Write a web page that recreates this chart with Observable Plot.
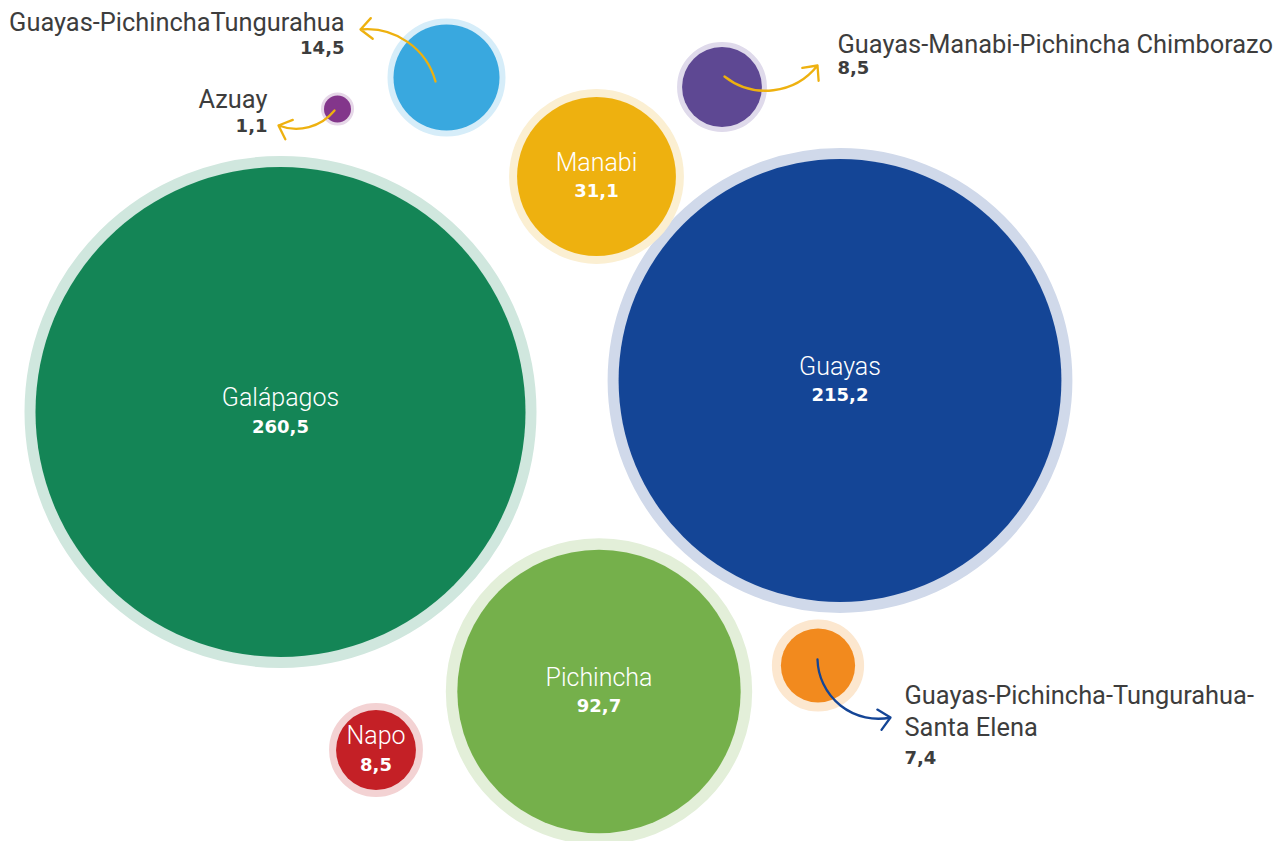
<!DOCTYPE html>
<html>
<head>
<meta charset="utf-8">
<script src="https://cdn.jsdelivr.net/npm/d3@7"></script>
<script src="https://cdn.jsdelivr.net/npm/@observablehq/plot@0.6"></script>
<style>
  html, body { margin: 0; padding: 0; background: #ffffff; }
  #chart svg { display: block; }
</style>
</head>
<body>
<div id="chart"></div>
<script>
// ---------- DATA ----------
const regions = [
  "Galápagos",
  "Guayas",
  "Pichincha",
  "Manabi",
  "Napo",
  "Guayas-PichinchaTungurahua",
  "Guayas-Manabi-Pichincha Chimborazo",
  "Guayas-Pichincha-Tungurahua-Santa Elena",
  "Azuay"
];
const values = [260.5, 215.2, 92.7, 31.1, 8.5, 14.5, 8.5, 7.4, 1.1];

// ---------- LAYOUT (frame units, 1282 x 841) ----------
const centerX = [280, 839.5, 598.5, 596, 375.5, 446, 721.5, 817.5, 337];
const centerY = [411.5, 380, 691, 176, 749.5, 77, 86.5, 665, 108.5];

// ---------- STYLE ----------
const fillColors = ["#148556", "#144596", "#75b04b", "#eeb10f", "#c42026", "#39a8df", "#5e4893", "#f28a1e", "#83368b"];
const ringColors = ["#d0e7de", "#d0d9ea", "#e3efd9", "#fbefd2", "#f3d2d3", "#d6edf9", "#dfdaeb", "#fce7cf", "#e6d7e8"];
const ringWidths = [11, 11, 11.5, 8, 7, 6, 5, 9, 3];
const labelInside = [true, true, true, true, true, false, false, false, false];

// outer labels: anchor position of name and value
const outerLabels = [
  {region: "Guayas-PichinchaTungurahua", lx: 344, nameY: 20.5, valueY: 48, anchor: "end"},
  {region: "Azuay", lx: 267, nameY: 97.7, valueY: 126, anchor: "end"},
  {region: "Guayas-Manabi-Pichincha Chimborazo", lx: 837, nameY: 42, valueY: 68, anchor: "start"},
  {region: "Guayas-Pichincha-Tungurahua-Santa Elena", lx: 904, nameY: 709.5, valueY: 757.5, anchor: "start", wrapBefore: "Santa"}
];

// callout arrows
const callouts = [
  {x1: 435, y1: 81, x2: 360, y2: 29, bend: -40, color: "#eeb10f"},
  {x1: 334, y1: 110, x2: 278, y2: 125, bend: 36, color: "#eeb10f"},
  {x1: 724, y1: 76, x2: 817, y2: 65, bend: -45, color: "#eeb10f"},
  {x1: 817, y1: 659, x2: 890, y2: 717, bend: -50, color: "#144596"}
];

// ---------- BUILD ----------
const W = 1282, H = 841;
const fmt = v => v.toFixed(1).replace(".", ",");

const bubbles = regions.map((name, i) => ({
  name, value: values[i],
  cx: centerX[i], cy: centerY[i],
  fill: fillColors[i], ring: ringColors[i], ringW: ringWidths[i],
  inside: labelInside[i]
}));
const inner = bubbles.filter(d => d.inside);
const outer = outerLabels.map(o => {
  const b = bubbles.find(d => d.name === o.region);
  const display = o.wrapBefore ? b.name.replace(o.wrapBefore, "\n" + o.wrapBefore) : b.name;
  return {...o, display, valueText: fmt(b.value)};
});

const textMarks = [];
for (const anchor of ["start", "end"]) {
  const group = outer.filter(d => d.anchor === anchor);
  textMarks.push(
    Plot.text(group, {
      x: "lx", y: "nameY", text: "display", textAnchor: anchor, lineAnchor: "middle",
      lineHeight: 1.26, fill: "#3d3d3d", fontSize: 25.4, fontWeight: 400, fontFamily: "Roboto"
    }),
    Plot.text(group, {
      x: "lx", y: "valueY", text: "valueText", textAnchor: anchor, lineAnchor: "middle",
      fill: "#3d3d3d", fontSize: 18, fontWeight: "bold", fontFamily: "DejaVu Sans"
    })
  );
}

const chart = Plot.plot({
  width: W,
  height: H,
  margin: 0,
  x: {domain: [0, W], range: [0, W], axis: null},
  y: {domain: [0, H], range: [0, H], axis: null},
  r: {type: "pow", exponent: 0.53, domain: [0, 260.5], range: [0, 245]},
  color: {type: "identity"},
  style: {background: "#ffffff"},
  marks: [
    // pale rings
    Plot.dot(bubbles, {x: "cx", y: "cy", r: "value", fill: "none", stroke: "ring", strokeWidth: d => 2 * d.ringW}),
    // main discs
    Plot.dot(bubbles, {x: "cx", y: "cy", r: "value", fill: "fill", stroke: "none"}),
    // callout arrows
    ...callouts.map(c => Plot.arrow([c], {
      x1: "x1", y1: "y1", x2: "x2", y2: "y2",
      bend: c.bend, stroke: c.color, strokeWidth: 2.3, headLength: 10, headAngle: 85
    })),
    // inside labels
    Plot.text(inner, {
      x: "cx", y: "cy", dy: -14, text: "name", fill: "#ffffff",
      fontSize: 25, fontWeight: 300, fontFamily: "Roboto", lineAnchor: "middle"
    }),
    Plot.text(inner, {
      x: "cx", y: "cy", dy: 15, text: d => fmt(d.value), fill: "#ffffff",
      fontSize: 18, fontWeight: "bold", fontFamily: "DejaVu Sans", lineAnchor: "middle"
    }),
    ...textMarks
  ]
});

document.getElementById("chart").appendChild(chart);
</script>
</body>
</html>
